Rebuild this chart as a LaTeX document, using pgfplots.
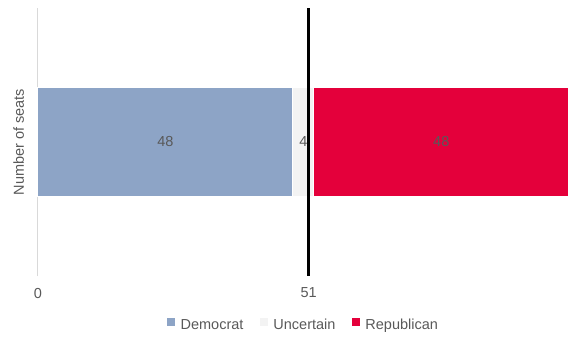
\documentclass[border=0pt]{standalone}
\usepackage{fontspec}
\setmainfont{Liberation Sans}
\usepackage{pgfplots}
\pgfplotsset{compat=1.18}

\definecolor{demblue}{HTML}{8DA4C6}
\definecolor{uncgray}{HTML}{F3F3F3}
\definecolor{repred}{HTML}{E4003B}
\definecolor{txtgray}{HTML}{595959}
\definecolor{axgray}{HTML}{D9D9D9}
\newcommand\chartfont{\fontsize{14.5bp}{17bp}\selectfont}

\pgfplotsset{
  seatframe/.style={
    scale only axis,
    width=530.6bp, height=268bp,
    at={(38bp,62bp)}, anchor=south west,
    xmin=0, xmax=100, ymin=-1, ymax=1,
    clip=false,
  },
}

\begin{document}
\begin{tikzpicture}
\useasboundingbox (0,0) rectangle (569bp,338bp);

% stacked bar with the seat split
\begin{axis}[
  seatframe,
  xbar stacked,
  bar width=109bp,
  axis x line*=bottom,
  x axis line style={draw=none},
  axis y line*=left,
  y axis line style={draw=axgray, line width=1bp},
  ytick=\empty,
  xtick={0,51},
  major tick length=0pt,
  /pgf/number format/assume math mode=true,
  tick label style={font=\chartfont, text=txtgray},
  xticklabel style={yshift=-8.5bp},
  ylabel={Number of seats},
  every axis y label/.style={at={(axis description cs:-0.0264,0.5)}, rotate=90, anchor=base, font=\chartfont, text=txtgray},
  legend style={at={(0.5,-0.183)}, anchor=center, draw=none, fill=none,
    font=\chartfont, text=txtgray, legend columns=-1,
    /tikz/every even column/.append style={column sep=14bp}},
  legend image code/.code={\fill[#1, draw=none] (0bp,-0.5bp) rectangle (8bp,7.5bp); \path (0bp,0bp) (11bp,0bp);},
]
\addplot[fill=demblue, draw=white, line width=1bp] coordinates {(48,0)};
\addplot[fill=uncgray, draw=white, line width=1bp] coordinates {(4,0)};
\addplot[fill=repred, draw=white, line width=1bp] coordinates {(48,0)};
\legend{Democrat, Uncertain, Republican}
\end{axis}

% segment values and the majority line
\begin{axis}[
  seatframe,
  axis lines=none,
  xtick=\empty, ytick=\empty,
]
\addplot[draw=none, mark=none, nodes near coords, point meta=explicit symbolic,
  every node near coord/.append style={anchor=center, font=\chartfont, text=txtgray}]
  coordinates {(24,0)[48] (50,0)[4] (76,0)[48]};
\addplot[black, line width=3bp] coordinates {(51,-1) (51,1)};
\end{axis}
\end{tikzpicture}
\end{document}
